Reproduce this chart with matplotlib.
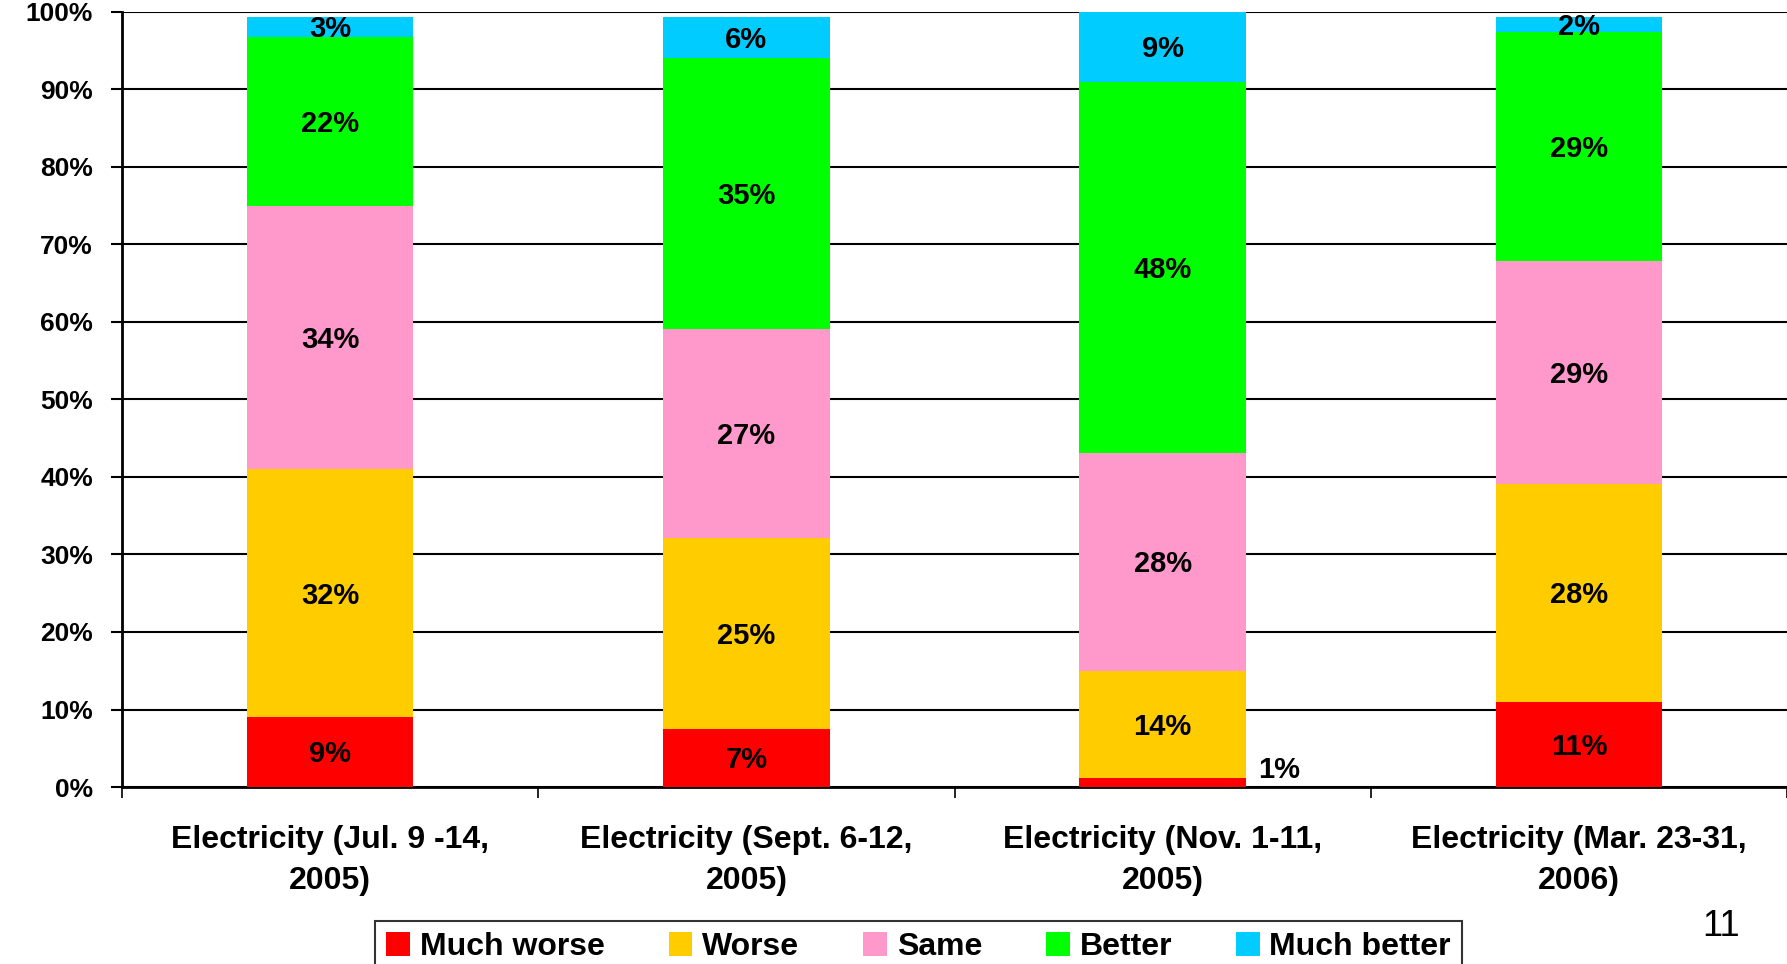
import numpy as np
import matplotlib
matplotlib.use("Agg")
import matplotlib.pyplot as plt

plt.rcParams['font.family'] = ['Liberation Sans', 'DejaVu Sans']

categories = ["Electricity (Jul. 9 -14,\n2005)", "Electricity (Sept. 6-12,\n2005)",
              "Electricity (Nov. 1-11,\n2005)", "Electricity (Mar. 23-31,\n2006)"]
series_names = ["Much worse", "Worse", "Same", "Better", "Much better"]
colors = ["#FF0000", "#FFCC00", "#FF99CC", "#00FF00", "#00CCFF"]

# values
much_worse = [9.0, 7.5, 1.2, 11.0]
worse = [32.0, 24.6, 13.8, 28.1]
same = [34.0, 27.0, 28.1, 28.8]
better = [21.8, 34.9, 47.9, 29.5]
much_better = [2.5, 5.3, 9.1, 1.9]

# printed labels
lab_much_worse = ["9%", "7%", "1%", "11%"]
lab_worse = ["32%", "25%", "14%", "28%"]
lab_same = ["34%", "27%", "28%", "29%"]
lab_better = ["22%", "35%", "48%", "29%"]
lab_much_better = ["3%", "6%", "9%", "2%"]

series = [much_worse, worse, same, better, much_better]
labels = [lab_much_worse, lab_worse, lab_same, lab_better, lab_much_better]

fig = plt.figure(figsize=(17.87, 9.64), dpi=100)
ax = fig.add_axes([0.0683, 0.1836, 0.9317, 0.804])

x = np.arange(len(categories))
bottom = np.zeros(len(categories))
for vals, labs, name, col in zip(series, labels, series_names, colors):
    vals = np.array(vals)
    ax.bar(x, vals, 0.4, bottom=bottom, color=col, label=name, zorder=3)
    for i in range(len(x)):
        if vals[i] < 3 and name == "Much worse":
            ax.text(x[i] + 0.28, bottom[i] + vals[i] + 1.0, labs[i], ha='center', va='center',
                    fontsize=21, fontweight='bold', zorder=4)
        else:
            ax.text(x[i], bottom[i] + vals[i] / 2 - 0.3, labs[i], ha='center', va='center',
                    fontsize=21, fontweight='bold', zorder=4)
    bottom += vals

ax.set_xlim(-0.5, 3.5)
ax.set_ylim(0, 100)
ax.set_yticks(np.arange(0, 101, 10))
ax.set_yticklabels([f"{v}%" for v in range(0, 101, 10)], fontsize=19, fontweight='bold')
ax.yaxis.grid(True, color='black', linewidth=1.5, zorder=1)
ax.set_axisbelow(True)

ax.set_xticks(np.arange(-0.5, 3.6, 1.0))
ax.set_xticklabels([])
ax.set_xticks(x, minor=True)
ax.set_xticklabels(categories, minor=True, fontsize=23, fontweight='bold', linespacing=1.5)
ax.tick_params(axis='x', which='minor', length=0, pad=27)
ax.tick_params(axis='x', which='major', length=8, width=1.2, direction='out')
ax.tick_params(axis='y', length=8, width=1.5, pad=13)

for s in ['top', 'right']:
    ax.spines[s].set_visible(False)
ax.spines['left'].set_linewidth(2)
ax.spines['bottom'].set_linewidth(2)

leg = fig.legend(loc='upper center', bbox_to_anchor=(0.514, 0.0446), ncol=5,
                 prop={'weight': 'bold', 'size': 23}, frameon=True, fancybox=False,
                 handlelength=0.75, handleheight=0.75, handletextpad=0.3, columnspacing=2.0,
                 borderpad=0.35, borderaxespad=0)
leg.get_frame().set_edgecolor('black')
leg.get_frame().set_linewidth(1.5)

fig.text(0.963, 0.039, "11", fontsize=26, ha='center', va='center')

fig.savefig("out.png", dpi=100)
